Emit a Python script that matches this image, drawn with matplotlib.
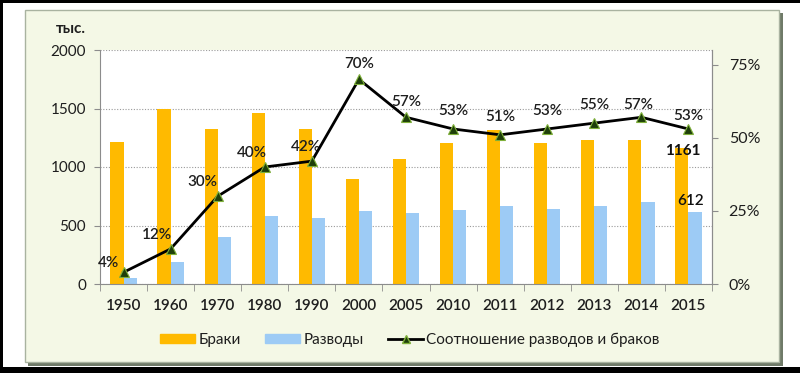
import matplotlib
matplotlib.use("Agg")
import matplotlib.pyplot as plt
from matplotlib.patches import Rectangle
from matplotlib.lines import Line2D
from matplotlib.ticker import FuncFormatter
import numpy as np

plt.rcParams['font.family'] = ['Lato', 'Noto Sans', 'DejaVu Sans']

years = ['1950', '1960', '1970', '1980', '1990', '2000', '2005',
         '2010', '2011', '2012', '2013', '2014', '2015']
marriages = [1215, 1497, 1325, 1462, 1325, 897, 1068,
             1205, 1316, 1205, 1230, 1230, 1161]
divorces = [54, 188, 399, 584, 561, 624, 604,
            635, 669, 644, 669, 698, 612]
ratio = [4, 12, 30, 40, 42, 70, 57, 53, 51, 53, 55, 57, 53]

labels = ['Браки', 'Разводы', 'Соотношение разводов и браков']
unit = 'тыс.'

# label offsets (points) for the percentage annotations
pct_offsets = [(-11, 2), (-10, 5), (-11, 5), (-9, 5), (-4, 5), (0, 6),
               (0, 6), (0, 8), (0, 8), (0, 8), (0, 8), (-2, 4), (0, 4)]

orange = '#FFBA00'
blue = '#9DCBF5'
txt = '#1e1e1e'
wt = 'semibold'

fig = plt.figure(figsize=(8, 3.73), dpi=100)
fig.patch.set_facecolor('white')

W, H = 800, 373
def fx(x): return x / W
def fy(y): return 1 - y / H

def frect(x0, y0, x1, y1, **kw):
    r = Rectangle((fx(x0), fy(y1)), fx(x1) - fx(x0), (y1 - y0) / H,
                  transform=fig.transFigure, zorder=-5, **kw)
    fig.patches.append(r)

# outer black border (left, top, bottom)
frect(0, 0, 3, 373, facecolor='black', edgecolor='none')
frect(0, 0, 800, 3, facecolor='black', edgecolor='none')
frect(0, 367, 800, 373, facecolor='black', edgecolor='none')
# shadow
frect(28, 13, 783, 366, facecolor='#6f7a68', edgecolor='none')
# panel
frect(25, 10, 779, 362, facecolor='#F4F8E6', edgecolor='#A9B3A0', linewidth=1.0)

ax = fig.add_axes([fx(100), fy(284), fx(712) - fx(100), (284 - 50) / H])
ax.set_zorder(1)
ax.set_facecolor('white')
x = np.arange(len(years))
bw = 0.28
ax.bar(x - bw / 2, marriages, bw, color=orange, zorder=2, label=labels[0])
ax.bar(x + bw / 2, divorces, bw, color=blue, zorder=2, label=labels[1])
ax.set_ylim(0, 2000)
ax.set_xlim(-0.5, len(years) - 0.5)
ax.set_yticks([0, 500, 1000, 1500, 2000])
ax.yaxis.grid(True, linestyle=(0, (1, 1.5)), color='#9a9a9a', linewidth=0.8, zorder=1)
ax.set_axisbelow(True)
ax.spines['top'].set_visible(False)
for s in ['left', 'bottom', 'right']:
    ax.spines[s].set_color('#8c8c8c')
ax.set_xticks(x)
ax.set_xticklabels(years, fontsize=11, fontweight=wt, color=txt)
ax.tick_params(axis='x', length=0, pad=11)
ax.set_xticks(np.arange(-0.5, len(years), 1), minor=True)
ax.tick_params(axis='x', which='minor', length=5, color='#8c8c8c', direction='out')
ax.tick_params(axis='y', length=4, color='#8c8c8c', labelsize=11, pad=6)
for t in ax.get_yticklabels():
    t.set_color(txt)

ax2 = ax.twinx()
ax2.set_ylim(0, 0.8)
ax2.set_yticks([0, 0.25, 0.5, 0.75])
ax2.yaxis.set_major_formatter(FuncFormatter(lambda v, p: f'{int(round(v * 100))}%'))
ax2.tick_params(axis='y', length=4, color='#8c8c8c', labelsize=11.5, pad=8)
for t in ax2.get_yticklabels():
    t.set_color(txt)
for s in ['top', 'left', 'bottom']:
    ax2.spines[s].set_visible(False)
ax2.spines['right'].set_color('#8c8c8c')
r = np.array(ratio) / 100
ax2.plot(x, r, color='black', linewidth=2, marker='^', markersize=7.5,
         markerfacecolor='#1E3F0A', markeredgecolor='#7FB03A', markeredgewidth=0.8,
         zorder=5)
for i, v in enumerate(ratio):
    ax2.annotate(f'{v}%', (x[i], r[i]), xytext=pct_offsets[i], textcoords='offset points',
                 ha='center', va='bottom', fontsize=11, fontweight=wt, color=txt)

ax2.annotate(str(marriages[-1]), (x[-1], marriages[-1] / 2500), xytext=(-4, -7),
             textcoords='offset points', ha='center', va='bottom',
             fontsize=11, fontweight='bold', color='#111111', zorder=6)
ax2.annotate(str(divorces[-1]), (x[-1] + bw / 2, divorces[-1] / 2500), xytext=(-3, 3),
             textcoords='offset points', ha='center', va='bottom',
             fontsize=11, fontweight=wt, color='#111111', zorder=6)

fig.text(fx(71), fy(29), unit, fontsize=11, fontweight='bold', ha='center', va='center',
         color=txt)

handles = [Rectangle((0, 0), 1, 1, color=orange), Rectangle((0, 0), 1, 1, color=blue),
           Line2D([], [], color='black', linewidth=2, marker='^', markersize=6,
                  markerfacecolor='#1E3F0A', markeredgecolor='#7FB03A')]
leg = fig.legend(handles, labels, loc='center', bbox_to_anchor=(fx(410), fy(340)),
                 ncol=3, frameon=False, fontsize=11, handlelength=2.3, handleheight=0.5,
                 columnspacing=1.6, handletextpad=0.2)
for t in leg.get_texts():
    t.set_color(txt)

fig.savefig('out.png', dpi=100, facecolor=fig.get_facecolor())
